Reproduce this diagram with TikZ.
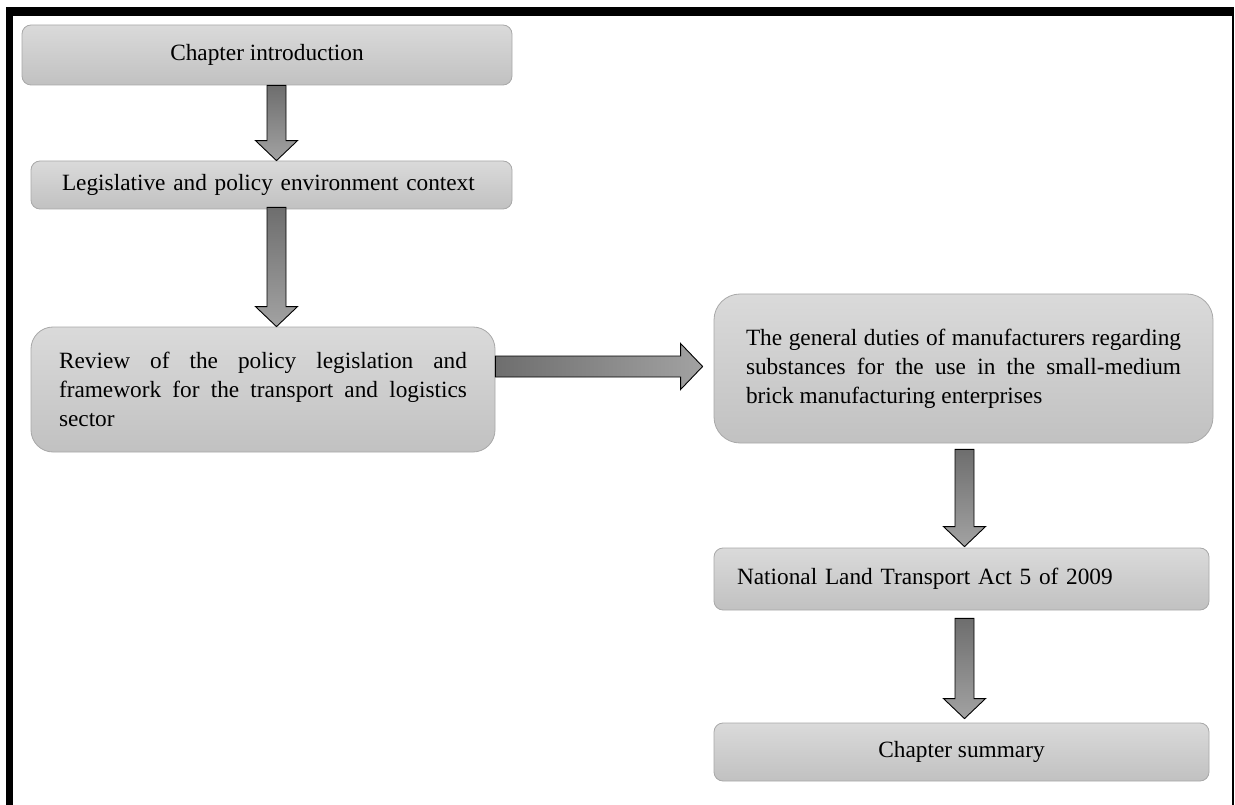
\documentclass[tikz,border=0pt]{standalone}
\usepackage{fontspec}
\setmainfont{Liberation Serif}
\usetikzlibrary{calc}

\definecolor{boxtop}{HTML}{DADADA}
\definecolor{boxbot}{HTML}{C1C1C1}
\definecolor{boxline}{HTML}{A8A8A8}
\definecolor{arrdark}{HTML}{6E6E6E}
\definecolor{arrlight}{HTML}{A2A2A2}

\newcommand\nobreaksetup{\hyphenpenalty=10000\relax\exhyphenpenalty=10000\relax\tolerance=9999\relax}

\begin{document}
\begin{tikzpicture}[x=1pt,y=-1pt,
  flowbox/.style={draw=boxline, line width=0.8pt, rounded corners=9pt,
    top color=boxtop, bottom color=boxbot, inner sep=0pt,
    font=\fontsize{23.3pt}{29pt}\selectfont,
    execute at begin node=\nobreaksetup},
  bigbox/.style={flowbox, rounded corners=22pt},
  varrow/.style={draw=black, line width=0.9pt, top color=arrdark, bottom color=arrlight,
    to path={let \p1=(\tikztostart), \p2=(\tikztotarget) in
      (\x1-9.5pt,\y1) -- (\x1+9.5pt,\y1) -- (\x1+9.5pt,\y2+20pt) -- (\x1+21pt,\y2+20pt)
      -- (\x1,\y2) -- (\x1-21pt,\y2+20pt) -- (\x1-9.5pt,\y2+20pt) -- cycle}},
  harrow/.style={draw=black, line width=0.9pt, left color=arrdark, right color=arrlight,
    to path={let \p1=(\tikztostart), \p2=(\tikztotarget) in
      (\x1,\y1+10.5pt) -- (\x2-22pt,\y1+10.5pt) -- (\x2-22pt,\y1+23pt) -- (\x2,\y1)
      -- (\x2-22pt,\y1-23pt) -- (\x2-22pt,\y1-10.5pt) -- (\x1,\y1-10.5pt) -- cycle}}
]
\useasboundingbox (0,0) rectangle (1235,805);

% page frame: heavy top and left rules, thin right rule
\fill[black] (6,7) rectangle (1234,16);
\fill[black] (6,7) rectangle (13,805);
\fill[black] (1231.5,7) rectangle (1234,805);

% boxes
\node[flowbox, minimum width=490pt, minimum height=60pt] (intro) at (267,55)
  {Chapter introduction};
\node[flowbox, minimum width=481pt, minimum height=48pt, text width=419pt, align=left] (legis) at (271.5,185)
  {Legislative and policy environment context};
\node[bigbox, minimum width=464pt, minimum height=125pt, text width=408pt, align=justify] (review) at (263,389.5)
  {Review of the policy legislation and framework for the transport and logistics sector};
\node[bigbox, rounded corners=26pt, minimum width=499pt, minimum height=149pt, text width=435pt, align=justify] (general) at (963.5,368.5)
  {The general duties of manufacturers regarding substances for the use in the small-medium brick manufacturing enterprises};
\node[flowbox, minimum width=495pt, minimum height=62pt, text width=449pt, align=left] (natl) at (961.5,579)
  {National Land Transport Act 5 of 2009};
\node[flowbox, minimum width=495pt, minimum height=58pt] (summary) at (961.5,752)
  {Chapter summary};

% arrow axes
\coordinate (ax1) at (276.5,0);
\coordinate (ax2) at (964.5,0);
\coordinate (ay) at (0,366.5);

% block arrows
\draw[varrow] (intro.south -| ax1) to (legis.north -| ax1);
\draw[varrow] ($(legis.south -| ax1)+(0,-2)$) to (review.north -| ax1);
\draw[harrow] (review.east |- ay) to ($(general.west |- ay)+(-11,0)$);
\draw[varrow] ($(general.south -| ax2)+(0,6)$) to ($(natl.north -| ax2)+(0,-1)$);
\draw[varrow] ($(natl.south -| ax2)+(0,8)$) to ($(summary.north -| ax2)+(0,-4)$);
\end{tikzpicture}
\end{document}
